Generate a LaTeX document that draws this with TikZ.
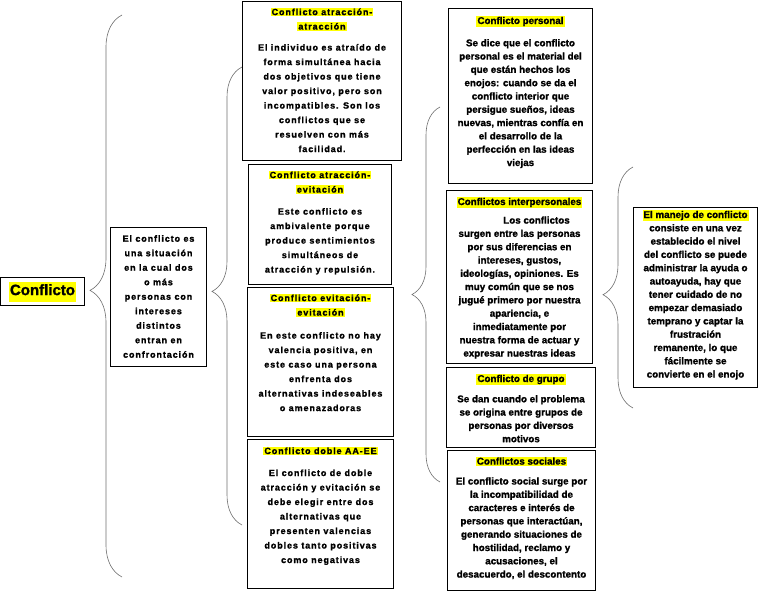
\documentclass[tikz,border=0pt]{standalone}
\usepackage{fontspec}
\setmainfont{Liberation Sans}[BoldFeatures={FakeBold=1.3}]
\newfontfamily\spacedfont{Liberation Sans}[LetterSpace=10, BoldFeatures={FakeBold=1.3}]
\usetikzlibrary{decorations.pathreplacing}
\definecolor{hlyellow}{RGB}{255,255,0}
\definecolor{bracegray}{RGB}{110,110,110}
\newcommand{\hltitle}[1]{{\setlength{\fboxsep}{1pt}\colorbox{hlyellow}{#1}}}
\newcommand{\cardtext}[4]{\parbox[c][#2][t]{#1}{\centering\vspace*{#3}#4}}

\tikzset{
  card/.style={draw, line width=1pt, inner sep=0pt, anchor=north west},
  col3/.style={font=\spacedfont\bfseries\fontsize{9}{14.5}\selectfont},
  col4/.style={font=\bfseries\fontsize{9.8}{13.3}\selectfont},
  curly/.style 2 args={draw=bracegray, line width=0.6pt, decorate,
    decoration={brace, amplitude=#1, aspect=#2}},
}

\begin{document}
\begin{tikzpicture}[x=1pt, y=-1pt]
  \useasboundingbox (0,0) rectangle (768,594);

  % root and definition
  \node[card, minimum width=84pt, minimum height=28pt,
        font=\bfseries\fontsize{15}{18}\selectfont] (conflicto) at (0,277)
    {\hltitle{\strut Conflicto}};
  \node[card, col3] (definicion) at (110,227)
    {\cardtext{96pt}{139pt}{7.7pt}{El conflicto es\\ una situación\\ en la cual dos\\
     o más\\ personas con\\ intereses\\ distintos\\ entran en\\ confrontación}};

  % tipos de conflicto
  \node[card, col3] (atratr) at (242,1)
    {\cardtext{159pt}{159pt}{6pt}{\hltitle{Conflicto atracción-}\\ \hltitle{atracción}\\[6.5pt]
     El individuo es atraído de\\ forma simultánea hacia\\ dos objetivos que tiene\\
     valor positivo, pero son\\ incompatibles. Son los\\ conflictos que se\\
     resuelven con más\\ facilidad.}};
  \node[card, col3] (atrevi) at (248,164)
    {\cardtext{143pt}{120pt}{6pt}{\hltitle{Conflicto atracción-}\\ \hltitle{evitación}\\[7.5pt]
     Este conflicto es\\ ambivalente porque\\ produce sentimientos\\
     simultáneos de\\ atracción y repulsión.}};
  \node[card, col3] (evievi) at (247,287)
    {\cardtext{146pt}{149pt}{6pt}{\hltitle{Conflicto evitación-}\\ \hltitle{evitación}\\[8.5pt]
     En este conflicto no hay\\ valencia positiva, en\\ este caso una persona\\
     enfrenta dos\\ alternativas indeseables\\ o amenazadoras}};
  \node[card, col3] (doble) at (247,439)
    {\cardtext{146pt}{149pt}{7pt}{\hltitle{Conflicto doble AA-EE}\\[7.5pt]
     El conflicto de doble\\ atracción y evitación se\\ debe elegir entre dos\\
     alternativas que\\ presenten valencias\\ dobles tanto positivas\\ como negativas}};

  % niveles de conflicto
  \node[card, col4] (personal) at (448,8)
    {\cardtext{144pt}{175pt}{7.4pt}{\hltitle{Conflicto personal}\\[9pt]
     Se dice que el conflicto\\ personal es el material del\\ que están hechos los\\
     enojos: cuando se da el\\ conflicto interior que\\ persigue sueños, ideas\\
     nuevas, mientras confía en\\ el desarrollo de la\\ perfección en las ideas\\ viejas}};
  \node[card, col4] (interpersonal) at (446,190)
    {\cardtext{146pt}{173pt}{6.4pt}{\hltitle{Conflictos interpersonales}\\[5.3pt]
     \hspace*{34pt}Los conflictos\\ surgen entre las personas\\ por sus diferencias en\\
     intereses, gustos,\\ ideologías, opiniones. Es\\ muy común que se nos\\
     jugué primero por nuestra\\ apariencia, e\\ inmediatamente por\\
     nuestra forma de actuar y\\ expresar nuestras ideas}};
  \node[card, col4] (grupo) at (446,367)
    {\cardtext{149pt}{80pt}{6.4pt}{\hltitle{Conflicto de grupo}\\[7pt]
     Se dan cuando el problema\\ se origina entre grupos de\\ personas por diversos\\ motivos}};
  \node[card, col4] (sociales) at (447,450)
    {\cardtext{148pt}{140pt}{6pt}{\hltitle{Conflictos sociales}\\[6.6pt]
     El conflicto social surge por\\ la incompatibilidad de\\ caracteres e interés de\\
     personas que interactúan,\\ generando situaciones de\\ hostilidad, reclamo y\\
     acusaciones, el\\ desacuerdo, el descontento}};

  % manejo
  \node[card, col4] (manejo) at (633,207)
    {\cardtext{124pt}{180pt}{2.4pt}{\hltitle{El manejo de conflicto}\\
     consiste en una vez\\ establecido el nivel\\ del conflicto se puede\\
     administrar la ayuda o\\ autoayuda, hay que\\ tener cuidado de no\\
     empezar demasiado\\ temprano y captar la\\ frustración\\ remanente, lo que\\
     fácilmente se\\ convierte en el enojo}};

  % llaves
  \coordinate (b1s) at (122,577); \coordinate (b1e) at (122,15);
  \coordinate (b2s) at (242,525); \coordinate (b2e) at (242,67);
  \coordinate (b3s) at (440,482); \coordinate (b3e) at (440,107);
  \coordinate (b4s) at (633,408); \coordinate (b4e) at (633,167);
  \draw[curly={32pt}{0.51}] (b1s) -- (b1e);
  \draw[curly={30pt}{0.51}] (b2s) -- (b2e);
  \draw[curly={28pt}{0.50}] (b3s) -- (b3e);
  \draw[curly={30pt}{0.47}] (b4s) -- (b4e);
\end{tikzpicture}
\end{document}
